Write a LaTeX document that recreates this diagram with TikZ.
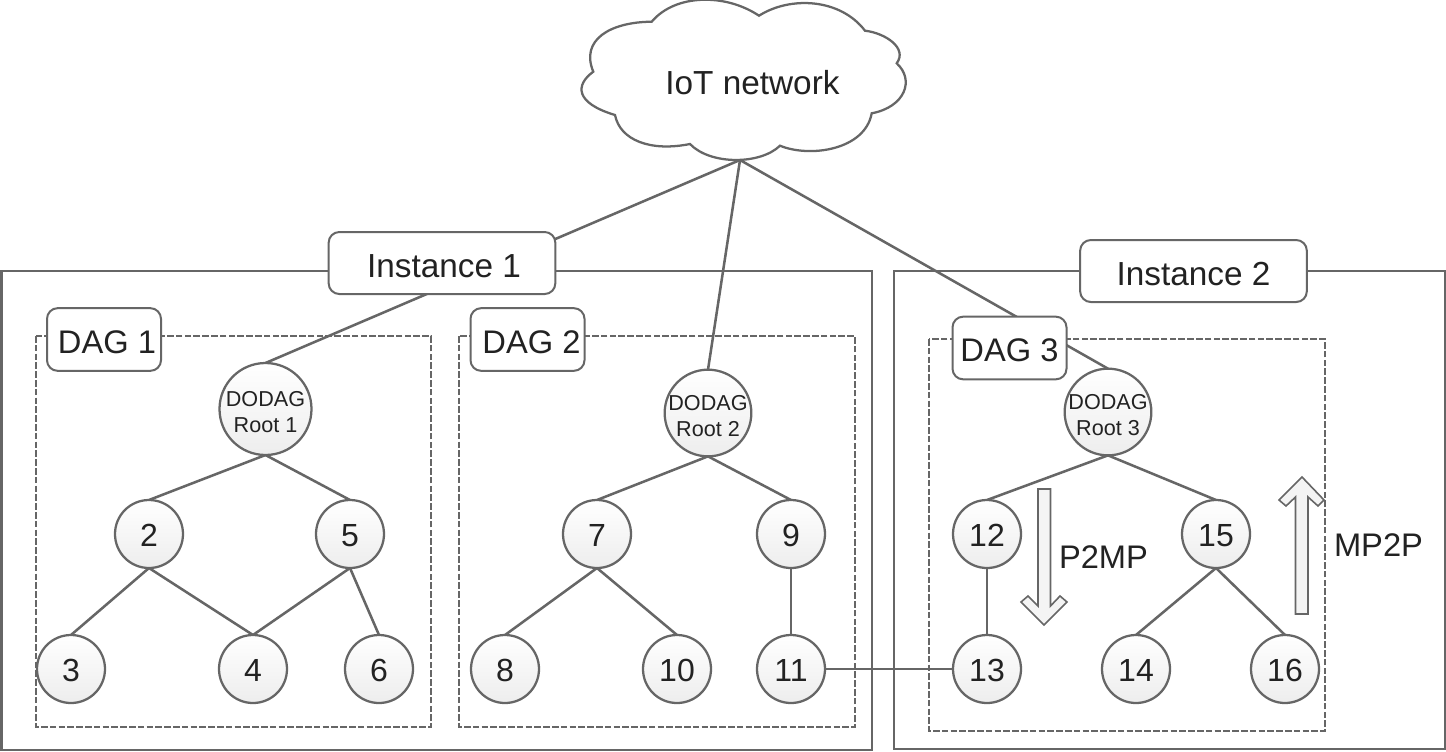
\documentclass[tikz,border=0pt]{standalone}
\usepackage{fontspec}
\setmainfont{Liberation Sans}
\usetikzlibrary{backgrounds}
\definecolor{ln}{HTML}{666666}
\definecolor{tx}{HTML}{222222}
\definecolor{fl}{HTML}{F4F4F4}
\tikzset{
  conn/.style={draw=ln,line width=1.9pt},
  frame/.style={draw=ln,line width=1.7pt},
  dagframe/.style={draw=ln,line width=1.4pt,dash pattern=on 5pt off 1.6pt},
  lab/.style={draw=ln,line width=1.5pt,fill=white,rounded corners=8pt,inner sep=0pt,outer sep=0pt,text=tx},
  inst/.style={lab,minimum width=170pt,minimum height=46.5pt,text height=21pt,text depth=0pt,font=\fontsize{25}{30}\selectfont},
  dag/.style={lab,minimum width=85.5pt,minimum height=47pt,text height=20.5pt,text depth=0pt,font=\fontsize{24.5}{30}\selectfont},
  vert/.style={circle,draw=ln,line width=1.7pt,top color=white,bottom color=black!7,inner sep=0pt,outer sep=0pt,text=tx},
  num/.style={vert,minimum size=51pt,text height=18.5pt,text depth=0pt,font=\fontsize{24}{28}\selectfont},
  rootn/.style={vert,minimum size=65pt,align=center,font=\fontsize{16.2}{19}\selectfont},
  plain/.style={text=tx,inner sep=0pt,font=\fontsize{24.5}{30}\selectfont},
  flow/.style={draw=ln,line width=1.2pt,fill=fl,line join=miter}
}
\newcommand{\dnstrut}{\rule{0pt}{16pt}}
\newcommand{\rootlabel}[1]{\dnstrut\makebox[0pt]{DODAG}\\\makebox[0pt]{Root #1}}
\begin{document}
\begin{tikzpicture}[x=0.75pt,y=-0.75pt]
\useasboundingbox (0,0) rectangle (1446,751);
% frames
\draw[frame] (1.5,271) rectangle (872,750);
\draw[frame] (894,271) rectangle (1445,749);
\draw[dagframe] (36,336) rectangle (431,727);
\draw[dagframe] (459,336) rectangle (855,727);
\draw[dagframe] (929,339) rectangle (1325,731);
% cloud
\draw[line width=1.7pt,draw=ln,fill=white]
  (651.7,21.7) .. controls (675,-6) and (725,-7) .. (759,15.7)
  .. controls (790,-4) and (840,-2) .. (865,30.7)
  .. controls (885,33) and (908,48) .. (896.7,63.3)
  .. controls (915,80) and (905,107) .. (871.7,113.3)
  .. controls (865,150) and (810,158) .. (780,145.7)
  .. controls (760,165) and (710,165) .. (690,144)
  .. controls (650,152) and (620,140) .. (615,115)
  .. controls (575,103) and (575,85) .. (593.3,71.7)
  .. controls (580,40) and (610,22) .. (651.7,21.7) -- cycle;
\node[text=tx,inner sep=0pt,font=\fontsize{25}{30}\selectfont] (iot) at (752.5,83) {IoT network};
\coordinate (tip) at (740,160);
% labels
\node[inst] (i1) at (442,263) {\hspace*{3pt}Instance 1};
\node[inst] (i2) at (1193.5,271) {Instance 2};
\node[dag] (d1) at (104,339.5) {\hspace*{4.5pt}DAG 1};
\node[dag] (d2) at (527.5,339.5) {\hspace*{6pt}DAG 2};
\node[dag] (d3) at (1009.5,348) {DAG 3};
% vertices
\node[rootn,minimum size=69pt] (r1) at (265.5,409) {\rootlabel{1}};
\node[rootn] (r2) at (708,413) {\rootlabel{2}};
\node[rootn] (r3) at (1108,412) {\rootlabel{3}};
\node[num] (n2) at (149,534) {2};
\node[num] (n5) at (350,534) {5};
\node[num] (n3) at (71,669) {3};
\node[num] (n4) at (253,669) {4};
\node[num] (n6) at (379,669) {6};
\node[num] (n7) at (597,534) {7};
\node[num] (n9) at (791,534) {9};
\node[num] (n8) at (505,669) {8};
\node[num] (n10) at (677,669) {10};
\node[num] (n11) at (791,669) {11};
\node[num] (n12) at (987,534) {12};
\node[num] (n15) at (1216,534) {15};
\node[num] (n13) at (987,669) {13};
\node[num] (n14) at (1136,669) {14};
\node[num] (n16) at (1285,669) {16};
% flow arrows
\draw[flow] (1038,489) -- (1050.5,489) -- (1050.5,606) -- (1060,596) -- (1067,602) -- (1044,625) -- (1021,602) -- (1028,596) -- (1038,606) -- cycle;
\draw[flow] (1295.5,614) -- (1308,614) -- (1308,497) -- (1318,506) -- (1324,500) -- (1302,477) -- (1279,500) -- (1286,506) -- (1295.5,497) -- cycle;
\node[plain] (p2mp) at (1103.5,557) {P2MP};
\node[plain] (mp2p) at (1378.5,545) {MP2P};
% connectors
\begin{pgfonlayer}{background}
\draw[conn] (tip) -- (r1.north);
\draw[conn] (tip) -- (r2.north);
\draw[conn] (tip) -- (r3.north);
\draw[conn] (r1.south) -- (n2.north);
\draw[conn] (r1.south) -- (n5.north);
\draw[conn] (n2.south) -- (n3.north);
\draw[conn] (n2.south) -- (n4.north);
\draw[conn] (n5.south) -- (n4.north);
\draw[conn] (n5.south) -- (n6.north);
\draw[conn] (r2.south) -- (n7.north);
\draw[conn] (r2.south) -- (n9.north);
\draw[conn] (n7.south) -- (n8.north);
\draw[conn] (n7.south) -- (n10.north);
\draw[conn] (n9.south) -- (n11.north);
\draw[conn] (r3.south) -- (n12.north);
\draw[conn] (r3.south) -- (n15.north);
\draw[conn] (n12.south) -- (n13.north);
\draw[conn] (n15.south) -- (n14.north);
\draw[conn] (n15.south) -- (n16.north);
\draw[conn] (n11.east) -- (n13.west);
\end{pgfonlayer}
\end{tikzpicture}
\end{document}
